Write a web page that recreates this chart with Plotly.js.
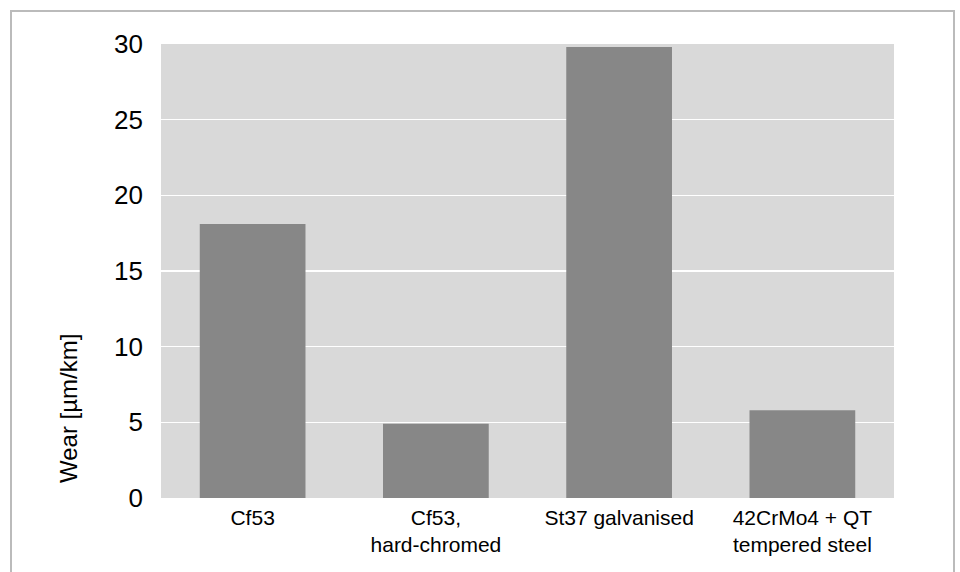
<!DOCTYPE html>
<html>
<head>
<meta charset="utf-8">
<script src="https://cdn.plot.ly/plotly-3.0.1.min.js"></script>
<style>html,body{margin:0;padding:0;background:#fff;}#chart{width:960px;height:572px;}</style>
</head>
<body>
<div id="chart"></div>
<script>
const categories = ["Cf53", "Cf53,<br>hard-chromed", "St37 galvanised", "42CrMo4 + QT<br>tempered steel"];
const wear = [18.1, 4.9, 29.8, 5.8];
const yTicks = [0, 5, 10, 15, 20, 25, 30];
const yTitle = "Wear [µm/km]";

const L = 161, R = 66, T = 44, B = 74;
const W = 960, H = 572;
const pw = W - L - R, ph = H - T - B;
const px = v => (v - L) / pw;
const py = v => (H - B - v) / ph;

Plotly.newPlot('chart', [{
  type: 'bar',
  x: categories,
  y: wear,
  marker: {color: '#878787'},
  hoverinfo: 'skip'
}], {
  width: W, height: H,
  margin: {l: L, r: R, t: T, b: B, pad: 0},
  paper_bgcolor: '#ffffff',
  plot_bgcolor: '#d9d9d9',
  bargap: 0.423,
  font: {family: '"Liberation Sans", Arial, sans-serif', color: '#000'},
  showlegend: false,
  xaxis: {
    showgrid: false, zeroline: false, showline: false,
    tickfont: {size: 21, color: '#000'},
    ticks: '', ticklabelstandoff: 5, fixedrange: true
  },
  yaxis: {
    range: [0, 30], tickvals: yTicks, ticktext: yTicks.map(String),
    showgrid: true, gridcolor: '#ffffff', gridwidth: 1.5,
    zeroline: false, showline: false,
    tickfont: {size: 26, color: '#000'},
    ticks: '', ticklabelstandoff: 17, fixedrange: true
  },
  annotations: [{
    xref: 'paper', yref: 'paper', x: px(68), y: py(409),
    text: yTitle, textangle: -90, showarrow: false,
    xanchor: 'center', yanchor: 'middle',
    font: {size: 24, color: '#000'}
  }],
  shapes: [{
    type: 'path', xref: 'paper', yref: 'paper',
    path: 'M ' + px(11) + ' ' + py(600) + ' L ' + px(11) + ' ' + py(11) + ' L ' + px(954) + ' ' + py(11) + ' L ' + px(954) + ' ' + py(600),
    line: {color: '#bbbbbb', width: 2}, layer: 'below'
  }]
}, {staticPlot: true, displayModeBar: false});
</script>
</body>
</html>
